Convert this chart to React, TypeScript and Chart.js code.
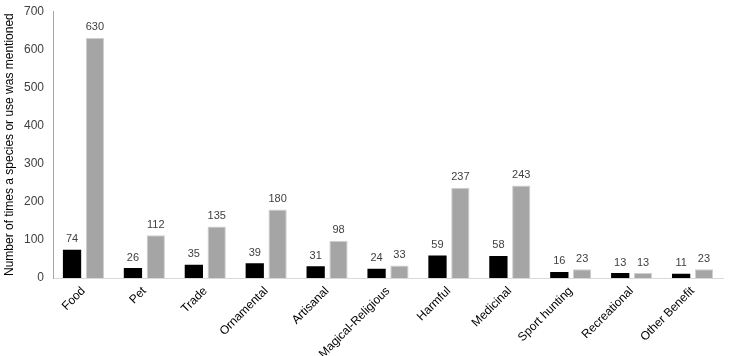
import React, { useEffect, useRef } from "react";
import { Chart, registerables } from "chart.js";

Chart.register(...registerables);

const categories = ["Food", "Pet", "Trade", "Ornamental", "Artisanal", "Magical-Religious", "Harmful", "Medicinal", "Sport hunting", "Recreational", "Other Benefit"];
const seriesA = [74, 26, 35, 39, 31, 24, 59, 58, 16, 13, 11];
const seriesB = [630, 112, 135, 180, 98, 33, 237, 243, 23, 13, 23];
const yTicks = [0, 100, 200, 300, 400, 500, 600, 700];

const FONT = "'Liberation Sans', Arial, sans-serif";

const labelPlugin = {
  id: "barLabels",
  afterDatasetsDraw(chart: any) {
    const ctx = chart.ctx;
    ctx.save();
    ctx.font = `11px ${FONT}`;
    ctx.fillStyle = "#404040";
    ctx.textAlign = "center";
    ctx.textBaseline = "bottom";
    chart.data.datasets.forEach((ds: any, i: number) => {
      const meta = chart.getDatasetMeta(i);
      meta.data.forEach((bar: any, j: number) => {
        ctx.fillText(String(ds.data[j]), bar.x, bar.y - 5);
      });
    });
    ctx.restore();
  },
};

export default function App() {
  const ref = useRef<HTMLCanvasElement>(null);
  useEffect(() => {
    document.body.style.margin = "0";
    const chart = new Chart(ref.current!, {
      type: "bar",
      data: {
        labels: categories,
        datasets: [
          { label: "A", data: seriesA, backgroundColor: "#000000", borderColor: "#000000", borderWidth: 0, categoryPercentage: 0.75, barPercentage: 0.8 },
          { label: "B", data: seriesB, backgroundColor: "#a5a5a5", borderColor: "#d0d0d0", borderWidth: 1, categoryPercentage: 0.75, barPercentage: 0.8 },
        ],
      },
      options: {
        animation: false,
        responsive: false,
        maintainAspectRatio: false,
        layout: { padding: { top: 11, right: 11, left: 0, bottom: 0 } },
        plugins: { legend: { display: false }, tooltip: { enabled: false } },
        scales: {
          x: {
            grid: { display: false, drawTicks: false },
            border: { color: "#d9d9d9", width: 1 },
            ticks: { maxRotation: 45, minRotation: 45, color: "#000000", font: { size: 12, family: FONT }, padding: 6 },
            afterFit: (axis: any) => { axis.height = 78; },
          },
          y: {
            min: 0,
            max: 700,
            afterBuildTicks: (axis: any) => { axis.ticks = yTicks.map((v) => ({ value: v })); },
            afterFit: (axis: any) => { axis.width = 53; },
            grid: { display: false, drawTicks: true, tickLength: 5, tickColor: "#a6a6a6" },
            border: { color: "#a6a6a6", width: 1 },
            ticks: { color: "#404040", font: { size: 12, family: FONT }, padding: 4 },
            title: { display: true, text: "Number of times a species or use was mentioned", color: "#000000", font: { size: 12, family: FONT }, padding: 2 },
          },
        },
      },
      plugins: [labelPlugin],
    });
    return () => chart.destroy();
  }, []);
  return (
    <div style={{ position: "absolute", left: 0, top: 0, width: 734, height: 356, background: "#fff" }}>
      <canvas ref={ref} width={734} height={356} style={{ display: "block" }} />
    </div>
  );
}
